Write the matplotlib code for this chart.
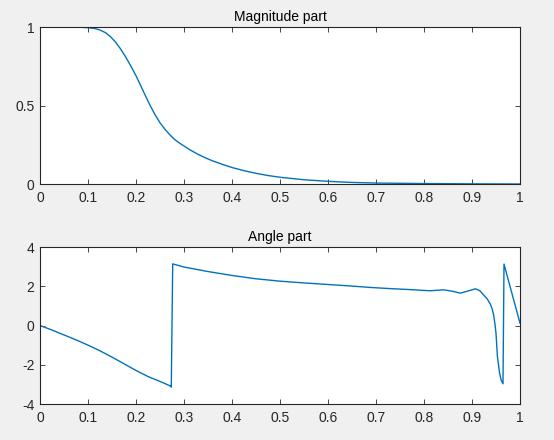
import matplotlib
matplotlib.use("Agg")
import matplotlib.pyplot as plt

# magnitude curve
mag_x = [0, 0.05, 0.08, 0.1, 0.115, 0.125, 0.137, 0.147, 0.157, 0.167, 0.178, 0.188, 0.2,
         0.21, 0.22, 0.23, 0.24, 0.25, 0.26, 0.27, 0.28, 0.29, 0.3, 0.315, 0.33, 0.345,
         0.36, 0.38, 0.4, 0.425, 0.45, 0.475, 0.5, 0.55, 0.6, 0.65, 0.7, 0.8, 0.9, 1.0]
mag_y = [1, 1, 0.999, 0.996, 0.99, 0.981, 0.963, 0.938, 0.905, 0.864, 0.812, 0.758, 0.69,
         0.625, 0.56, 0.497, 0.44, 0.39, 0.35, 0.315, 0.285, 0.262, 0.242, 0.213, 0.188, 0.166,
         0.147, 0.125, 0.105, 0.085, 0.068, 0.054, 0.043, 0.027, 0.017, 0.01, 0.006, 0.003, 0.001, 0]

# angle curve (radians)
ang_x = [0, 0.025, 0.05, 0.075, 0.1, 0.125, 0.15, 0.175, 0.2, 0.225, 0.25, 0.2715, 0.2735,
         0.2765, 0.3, 0.35, 0.4, 0.45, 0.5, 0.55, 0.6, 0.65, 0.688, 0.73, 0.771, 0.813,
         0.841, 0.86, 0.876, 0.892, 0.907, 0.916, 0.924, 0.931, 0.938, 0.942, 0.945,
         0.948, 0.950, 0.953, 0.9575, 0.961, 0.9646, 0.9667, 1.0]
ang_y = [0, -0.23, -0.48, -0.73, -1.0, -1.29, -1.61, -1.95, -2.29, -2.6, -2.85, -3.08, -3.14,
         3.14, 2.98, 2.75, 2.55, 2.38, 2.26, 2.17, 2.09, 2.01, 1.94, 1.88, 1.83, 1.77,
         1.82, 1.74, 1.65, 1.76, 1.87, 1.78, 1.56, 1.38, 1.1, 0.85, 0.55,
         0.05, -0.39, -1.58, -2.43, -2.8, -2.97, 3.13, 0.12]

xticks = [0, 0.1, 0.2, 0.3, 0.4, 0.5, 0.6, 0.7, 0.8, 0.9, 1]
xlabels = ["0", "0.1", "0.2", "0.3", "0.4", "0.5", "0.6", "0.7", "0.8", "0.9", "1"]

plt.rcParams["font.family"] = ["Liberation Sans", "DejaVu Sans"]
plt.rcParams["font.size"] = 10
plt.rcParams["axes.unicode_minus"] = False

fig = plt.figure(figsize=(5.54, 4.40), dpi=100, facecolor="#f0f0f0")
ax1 = fig.add_axes([0.0722, 0.5818, 0.8664, 0.3568])
ax2 = fig.add_axes([0.0722, 0.0818, 0.8664, 0.3568])

c = "#0072bd"
ax1.plot(mag_x, mag_y, color=c, lw=1.0)
ax1.set_xlim(0, 1); ax1.set_ylim(0, 1)
ax1.set_yticks([0, 0.5, 1]); ax1.set_yticklabels(["0", "0.5", "1"])
ax1.set_title("Magnitude part", fontsize=10, pad=4, color="#000000")

ax2.plot(ang_x, ang_y, color=c, lw=1.0)
ax2.set_xlim(0, 1); ax2.set_ylim(-4, 4)
ax2.set_yticks([-4, -2, 0, 2, 4])
ax2.set_title("Angle part", fontsize=10, pad=4, color="#000000")

for ax in (ax1, ax2):
    ax.set_xticks(xticks); ax.set_xticklabels(xlabels)
    ax.tick_params(direction="in", length=3.5, width=0.6, colors="#262626",
                   top=True, right=True, labelsize=10)
    ax.tick_params(axis="x", pad=5)
    ax.tick_params(axis="y", pad=4)
    for s in ax.spines.values():
        s.set_color("#262626"); s.set_linewidth(0.8)
    ax.set_facecolor("white")

fig.savefig("out.png", dpi=100, facecolor=fig.get_facecolor())
